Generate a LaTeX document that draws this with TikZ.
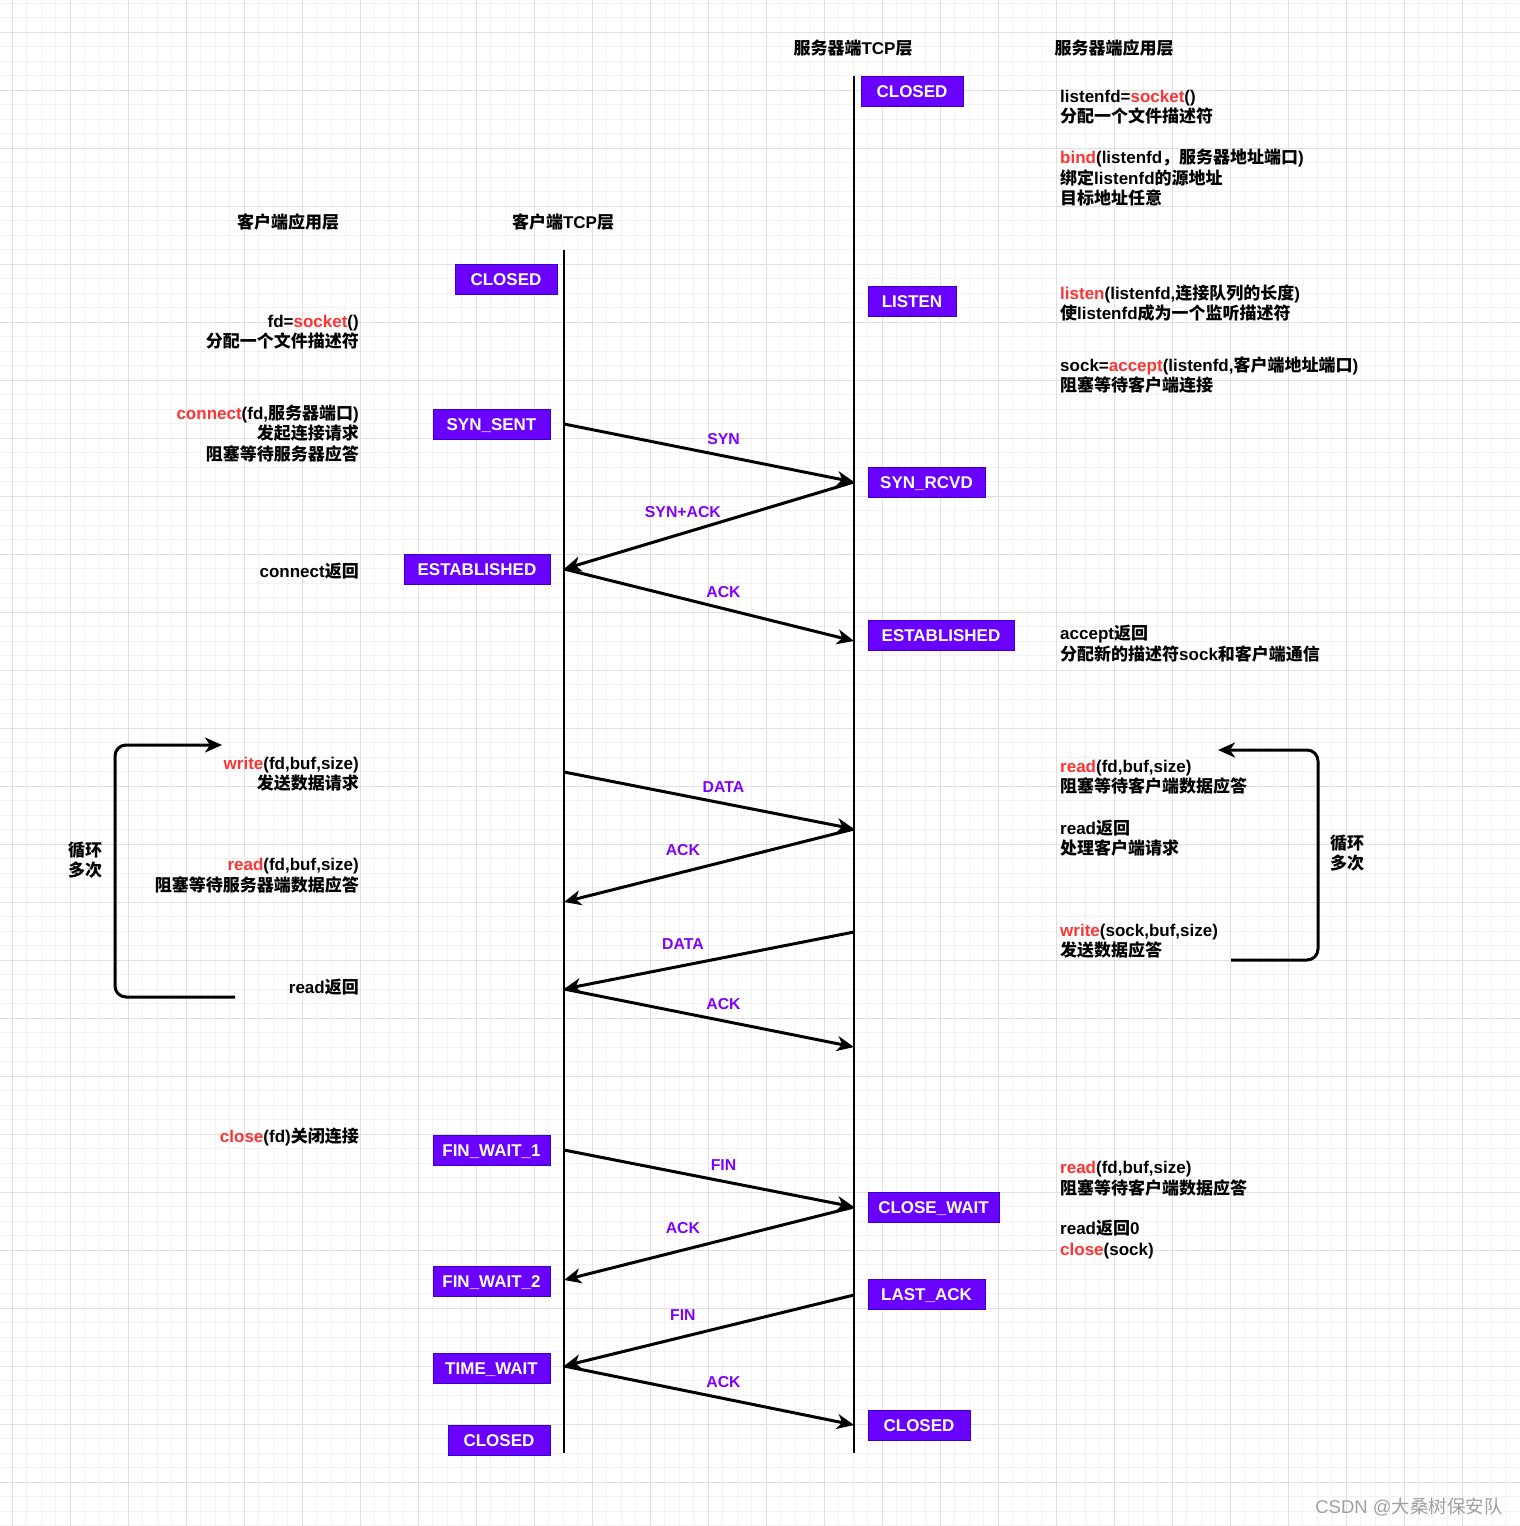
\documentclass[tikz,border=0pt]{standalone}
\usepackage{fontspec}
\setmainfont{Liberation Sans}
\newfontfamily\latinfont{Liberation Sans}
\newfontfamily\cjkfont{Noto Sans CJK SC}
\usetikzlibrary{arrows.meta}

% Chinese characters are set in the CJK font, the rest in Liberation Sans
\XeTeXinterchartokenstate=1
\chardef\cjkclass=7
\newcount\cjkc
\cjkc="4E00
\loop\XeTeXcharclass\cjkc=\cjkclass \advance\cjkc by 1 \ifnum\cjkc<"A000 \repeat
\cjkc="3000
\loop\XeTeXcharclass\cjkc=\cjkclass \advance\cjkc by 1 \ifnum\cjkc<"3040 \repeat
\cjkc="FF00
\loop\XeTeXcharclass\cjkc=\cjkclass \advance\cjkc by 1 \ifnum\cjkc<"FFF0 \repeat
\XeTeXinterchartoks 0 \cjkclass = {\cjkfont}
\XeTeXinterchartoks 4095 \cjkclass = {\cjkfont}
\XeTeXinterchartoks \cjkclass 0 = {\latinfont}
\XeTeXinterchartoks \cjkclass 4095 = {\latinfont}

\definecolor{boxfill}{HTML}{6A00FF}
\definecolor{boxline}{HTML}{3700CC}
\definecolor{msgpurple}{HTML}{7F00FF}
\definecolor{fnred}{HTML}{FF3333}
\definecolor{gridmajor}{HTML}{E0E0E0}
\definecolor{gridminor}{HTML}{F2F2F2}
\definecolor{wmgray}{HTML}{A0A0A0}

\newcommand\fname[1]{\textcolor{fnred}{#1}}

\tikzset{
  txt/.style={inner sep=0pt, font=\bfseries\fontsize{17}{20.5}\selectfont},
  hdr/.style={txt},
  ltxt/.style={txt, anchor=east, align=right, yshift=-1pt},
  rtxt/.style={txt, anchor=west, align=left, yshift=-1pt},
  stbox/.style={txt, draw=boxline, fill=boxfill, text=white, line width=1pt,
    minimum width=117pt, minimum height=30pt, text height=13.5pt, text depth=0pt},
  life/.style={line width=1.5pt},
  msg/.style={line width=3pt, -{Stealth[length=17pt,width=15pt,inset=5pt]}},
  lbl/.style={inner sep=0pt, text=msgpurple, font=\bfseries\fontsize{15.8}{18}\selectfont},
  lblr/.style={lbl, pos=.55, above=9.5pt},
  lbll/.style={lbl, pos=.59, above=14.5pt},
  loopln/.style={line width=3pt, rounded corners=11pt,
    -{Stealth[length=17pt,width=15pt,inset=5pt]}},
}

\begin{document}
\begin{tikzpicture}[x=1pt,y=-1pt]
  \useasboundingbox (0,0) rectangle (1520,1526);
  \fill[white] (0,0) rectangle (1520,1526);

  % background grid
  \foreach \i in {0,...,105} {
    \draw[gridminor, line width=1pt] ({-2.2+14.5*\i},0) -- ++(0,1526);
    \draw[gridminor, line width=1pt] (0,{3.3+14.5*\i}) -- ++(1520,0);
  }
  \foreach \i in {0,...,26}
    \draw[gridmajor, line width=1pt] ({12.3+58*\i},0) -- ++(0,1526);
  \foreach \i in {0,...,25}
    \draw[gridmajor, line width=1pt] (0,{32.3+58*\i}) -- ++(1520,0);

  % headers
  \node[hdr] (hcapp) at (288,222) {客户端应用层};
  \node[hdr] (hctcp) at (563,222) {客户端TCP层};
  \node[hdr] (hstcp) at (853,48) {服务器端TCP层};
  \node[hdr] (hsapp) at (1114,48) {服务器端应用层};

  % lifelines
  \coordinate (cltop) at (564,250);
  \coordinate (clbot) at (564,1453);
  \coordinate (svtop) at (854,76);
  \coordinate (svbot) at (854,1453);
  \draw[life] (cltop) -- (clbot);
  \draw[life] (svtop) -- (svbot);

  % server states
  \node[stbox, minimum width=102pt] (sclosed) at (912,91) {CLOSED};
  \node[stbox, minimum width=88pt] (slisten) at (912,301) {LISTEN};
  \node[stbox] (ssynrcvd) at (926.5,482) {SYN\_RCVD};
  \node[stbox, minimum width=146pt] (sest) at (941,635) {ESTABLISHED};
  \node[stbox, minimum width=131pt] (sclosewait) at (933.5,1207) {CLOSE\_WAIT};
  \node[stbox] (slastack) at (926.5,1294) {LAST\_ACK};
  \node[stbox, minimum width=102pt] (sclosedb) at (919,1425) {CLOSED};

  % client states
  \node[stbox, minimum width=102pt] (cclosed) at (506,279) {CLOSED};
  \node[stbox] (csynsent) at (491.5,424) {SYN\_SENT};
  \node[stbox, minimum width=146pt] (cest) at (477,569) {ESTABLISHED};
  \node[stbox] (cfinwa) at (491.5,1150) {FIN\_WAIT\_1};
  \node[stbox] (cfinwb) at (491.5,1281) {FIN\_WAIT\_2};
  \node[stbox] (ctimewait) at (491.5,1368) {TIME\_WAIT};
  \node[stbox, minimum width=102pt] (cclosedb) at (499,1440) {CLOSED};

  % message points on the lifelines
  \foreach \n/\y in {1/424,2/569,3/772,4/902,5/989,6/1150,7/1280,8/1366}
    \coordinate (c\n) at (564,\y);
  \foreach \n/\y in {1/482,2/641,3/829,4/932,5/1047,6/1207,7/1295,8/1425}
    \coordinate (s\n) at (854,\y);

  % messages
  \draw[msg] (c1) -- (s1) node[lblr] (msyn) {SYN};
  \draw[msg] (s1) -- (c2) node[lbll] (msynack) {SYN+ACK};
  \draw[msg] (c2) -- (s2) node[lblr] (mack) {ACK};
  \draw[msg] (c3) -- (s3) node[lblr] (mdata) {DATA};
  \draw[msg] (s3) -- (c4) node[lbll] (mdack) {ACK};
  \draw[msg] (s4) -- (c5) node[lbll] (mresp) {DATA};
  \draw[msg] (c5) -- (s5) node[lblr] (mrack) {ACK};
  \draw[msg] (c6) -- (s6) node[lblr] (mfina) {FIN};
  \draw[msg] (s6) -- (c7) node[lbll] (mfinack) {ACK};
  \draw[msg] (s7) -- (c8) node[lbll] (mfinb) {FIN};
  \draw[msg] (c8) -- (s8) node[lblr] (mlast) {ACK};

  % client application
  \node[ltxt] (csocket) at (359,331) {fd=\fname{socket}()\\分配一个文件描述符};
  \node[ltxt] (cconnect) at (359,432.5) {\fname{connect}(fd,服务器端口)\\发起连接请求\\阻塞等待服务器应答};
  \node[ltxt] (cconnret) at (359,570) {connect返回};
  \node[ltxt] (cwrite) at (359,773) {\fname{write}(fd,buf,size)\\发送数据请求};
  \node[ltxt] (cread) at (359,874.5) {\fname{read}(fd,buf,size)\\阻塞等待服务器端数据应答};
  \node[ltxt] (creadret) at (359,986) {read返回};
  \node[ltxt] (cclose) at (359,1136) {\fname{close}(fd)关闭连接};

  % server application
  \node[rtxt] (ssocket) at (1060,106) {listenfd=\fname{socket}()\\分配一个文件描述符};
  \node[rtxt] (sbind) at (1060,177) {\fname{bind}(listenfd，服务器地址端口)\\绑定listenfd的源地址\\目标地址任意};
  \node[rtxt] (slistenfn) at (1060,302) {\fname{listen}(listenfd,连接队列的长度)\\使listenfd成为一个监听描述符};
  \node[rtxt] (saccept) at (1060,374) {sock=\fname{accept}(listenfd,客户端地址端口)\\阻塞等待客户端连接};
  \node[rtxt] (sacceptret) at (1060,642.5) {accept返回\\分配新的描述符sock和客户端通信};
  \node[rtxt] (sread) at (1060,776) {\fname{read}(fd,buf,size)\\阻塞等待客户端数据应答};
  \node[rtxt] (sreadret) at (1060,837) {read返回\\处理客户端请求};
  \node[rtxt] (swrite) at (1060,940) {\fname{write}(sock,buf,size)\\发送数据应答};
  \node[rtxt] (sreadb) at (1060,1177.5) {\fname{read}(fd,buf,size)\\阻塞等待客户端数据应答};
  \node[rtxt] (sclosefn) at (1060,1238.5) {read返回0\\\fname{close}(sock)};

  % loops
  \coordinate (cla) at (235,997);
  \coordinate (clb) at (222,745);
  \draw[loopln] (cla) -- (115,997) -- (115,745) -- (clb);
  \node[txt, align=center] (cloop) at (85,860) {循环\\多次};
  \coordinate (sla) at (1231,960);
  \coordinate (slb) at (1218,750);
  \draw[loopln] (sla) -- (1318,960) -- (1318,750) -- (slb);
  \node[txt, align=center] (sloop) at (1347,853) {循环\\多次};

  % watermark
  \node[inner sep=0pt, text=wmgray, font=\fontsize{18.5}{22}\selectfont] (wmark)
    at (1409,1507) {CSDN @大桑树保安队};
\end{tikzpicture}
\end{document}
